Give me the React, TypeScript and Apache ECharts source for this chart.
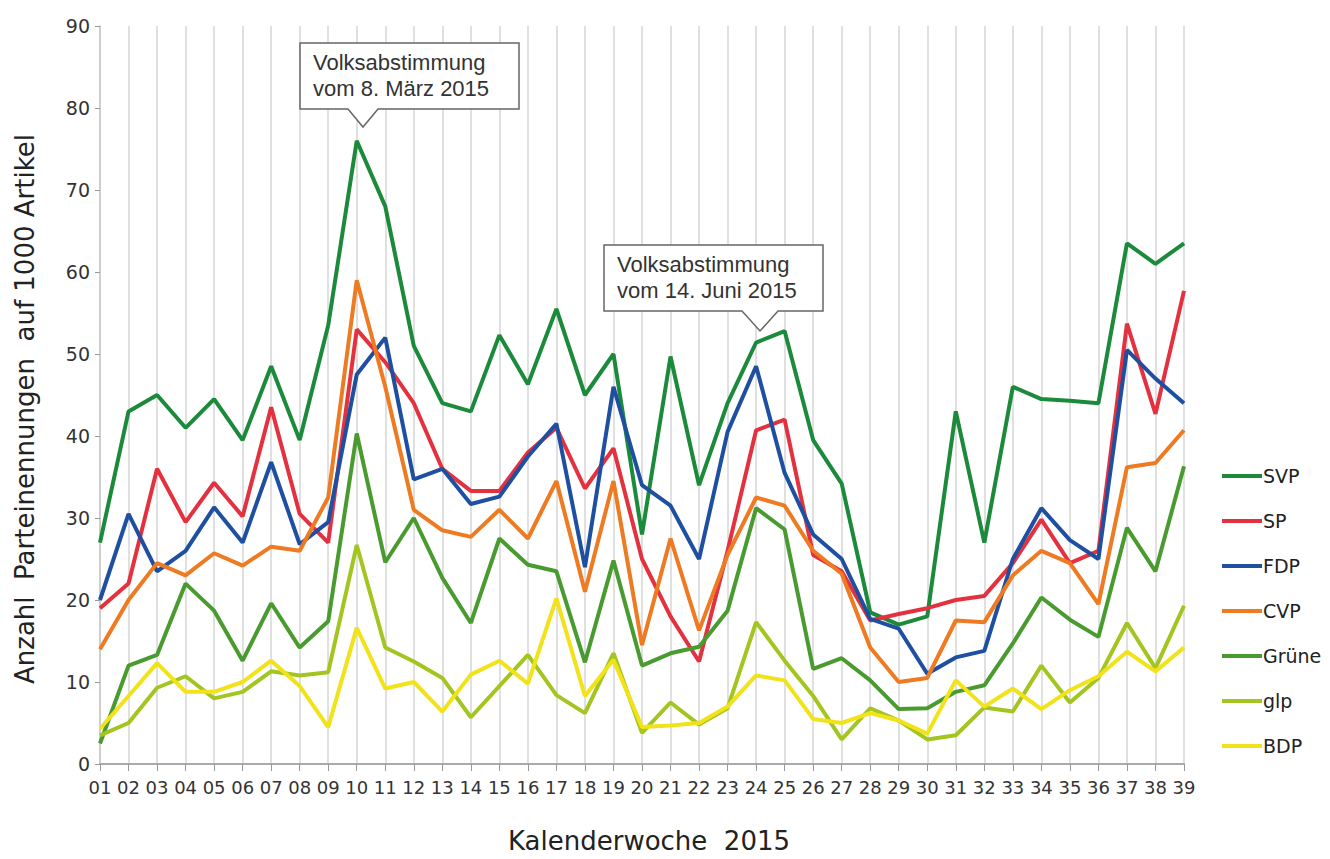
import React, { useEffect, useRef } from "react";
import * as echarts from "echarts";

const weeks = ["01","02","03","04","05","06","07","08","09","10","11","12","13","14","15","16","17","18","19","20","21","22","23","24","25","26","27","28","29","30","31","32","33","34","35","36","37","38","39"];

const svp = [27, 43, 45, 41, 44.5, 39.5, 48.5, 39.5, 53.5, 76, 68, 51, 44, 43, 52.3, 46.3, 55.5, 45, 50, 28, 49.7, 34, 44, 51.4, 52.8, 39.5, 34.2, 18.5, 17, 18, 43, 27, 46, 44.5, 44.3, 44, 63.5, 61, 63.5];
const sp = [19, 22, 36, 29.5, 34.3, 30.2, 43.5, 30.5, 27, 53, 49, 44, 36, 33.3, 33.3, 38, 41, 33.6, 38.5, 25, 18, 12.5, 26, 40.7, 42, 25.5, 23.5, 17.5, 18.3, 19, 20, 20.5, 24.5, 29.8, 24.5, 26, 53.7, 42.7, 57.7];
const fdp = [20, 30.5, 23.5, 26, 31.3, 27, 36.8, 26.8, 29.5, 47.5, 52, 34.7, 36, 31.7, 32.6, 37.5, 41.5, 24, 46, 34, 31.5, 25, 40.5, 48.5, 35.5, 28, 25, 17.7, 16.5, 11, 13, 13.8, 25, 31.2, 27.3, 25, 50.5, 47, 44];
const cvp = [14, 20, 24.5, 23, 25.7, 24.2, 26.5, 26, 32.5, 59, 46, 31, 28.5, 27.7, 31, 27.5, 34.5, 21, 34.5, 14.5, 27.5, 16.3, 25.5, 32.5, 31.5, 26, 23.2, 14.2, 10, 10.5, 17.5, 17.3, 23, 26, 24.5, 19.5, 36.2, 36.7, 40.7];
const gruene = [2.5, 12, 13.3, 22, 18.7, 12.6, 19.6, 14.2, 17.4, 40.3, 24.6, 30, 22.7, 17.2, 27.5, 24.3, 23.5, 12.4, 24.8, 12, 13.5, 14.3, 18.7, 31.2, 28.6, 11.6, 12.9, 10.2, 6.7, 6.8, 8.8, 9.6, 14.7, 20.3, 17.6, 15.5, 28.8, 23.5, 36.3];
const glp = [3.5, 5, 9.3, 10.7, 8, 8.8, 11.3, 10.8, 11.2, 26.7, 14.2, 12.5, 10.5, 5.7, 9.5, 13.3, 8.4, 6.2, 13.5, 3.8, 7.5, 4.8, 6.8, 17.3, 12.6, 8.3, 3, 6.8, 5.3, 3, 3.5, 6.9, 6.4, 12, 7.5, 10.5, 17.2, 11.7, 19.3];
const bdp = [4.3, 8.3, 12.3, 8.8, 8.8, 10, 12.6, 9.5, 4.5, 16.6, 9.2, 10, 6.4, 10.9, 12.6, 9.8, 20.2, 8.3, 12.7, 4.5, 4.7, 5, 7, 10.8, 10.2, 5.5, 5, 6.2, 5.3, 3.7, 10.2, 7, 9.2, 6.7, 9, 10.7, 13.7, 11.3, 14.2];

const seriesNames = ["SVP", "SP", "FDP", "CVP", "Grüne", "glp", "BDP"];
const seriesData = [svp, sp, fdp, cvp, gruene, glp, bdp];
const seriesColors = ["#1b8a3b", "#e4313f", "#1e4fa0", "#ee7a22", "#4a9b2f", "#a3c520", "#f2e21a"];

const yTicks = [0, 10, 20, 30, 40, 50, 60, 70, 80, 90];
const callout1 = ["Volksabstimmung", "vom 8. März 2015"];
const callout2 = ["Volksabstimmung", "vom 14. Juni 2015"];

const ARIAL = "'Liberation Sans', Arial, sans-serif";
const DEJAVU = "'DejaVu Sans', sans-serif";

export default function App() {
  const ref = useRef<HTMLDivElement>(null);
  useEffect(() => {
    if (!ref.current) return;
    const chart = echarts.init(ref.current, null, { renderer: "svg" });
    const calloutStyle = { fill: "#ffffff", stroke: "#666666", lineWidth: 1.5 };
    chart.setOption({
      animation: false,
      backgroundColor: "#ffffff",
      grid: { left: 100, right: 146, top: 26, bottom: 92, containLabel: false },
      legend: {
        orient: "vertical",
        left: 1222,
        top: 465,
        padding: 0,
        itemWidth: 40,
        itemHeight: 4,
        itemGap: 23,
        icon: "rect",
        textStyle: { fontFamily: DEJAVU, fontSize: 19, color: "#222", lineHeight: 22, padding: [0, 0, 0, -4] },
        data: seriesNames,
      },
      xAxis: {
        type: "category",
        data: weeks,
        boundaryGap: false,
        name: "Kalenderwoche  2015",
        nameLocation: "middle",
        nameGap: 64,
        nameTextStyle: { fontFamily: DEJAVU, fontSize: 26, color: "#222", padding: [0, 0, 0, 14] },
        axisLine: { show: true, lineStyle: { color: "#aaaaaa", width: 2 } },
        axisTick: { show: true, length: 7, lineStyle: { color: "#999999" }, alignWithLabel: true },
        axisLabel: { fontFamily: DEJAVU, fontSize: 18, color: "#333", margin: 14, interval: 0 },
        splitLine: { show: true, lineStyle: { color: "#d6d6d6", width: 1.5 } },
      },
      yAxis: {
        type: "value",
        min: 0,
        max: 90,
        interval: 10,
        name: "Anzahl  Parteinennungen  auf 1000 Artikel",
        nameLocation: "middle",
        nameGap: 62,
        nameTextStyle: { fontFamily: DEJAVU, fontSize: 26, color: "#222", padding: [0, 28, 0, 0] },
        axisLine: { show: true, lineStyle: { color: "#c8c8c8", width: 1.5 } },
        axisTick: { show: true, length: 5, lineStyle: { color: "#999999" } },
        axisLabel: {
          fontFamily: DEJAVU,
          fontSize: 19,
          color: "#333",
          margin: 10,
          formatter: (v: number) => (yTicks.includes(v) ? String(v) : ""),
        },
        splitLine: { show: false },
      },
      series: seriesNames.map((n, i) => ({
        name: n,
        type: "line",
        data: seriesData[i],
        symbol: "none",
        color: seriesColors[i],
        lineStyle: { width: 4, color: seriesColors[i] },
        z: 2,
      })),
      graphic: [
        {
          type: "polygon",
          shape: { points: [[300, 43], [519, 43], [519, 109], [378, 109], [363, 127], [348, 109], [300, 109]] },
          style: calloutStyle,
          z: 10,
        },
        {
          type: "text",
          left: 313,
          top: 49,
          style: { text: callout1.join("\n"), font: `22px ${ARIAL}`, fill: "#333", lineHeight: 26 },
          z: 11,
        },
        {
          type: "polygon",
          shape: { points: [[604, 245], [823, 245], [823, 311], [778, 311], [760, 331], [742, 311], [604, 311]] },
          style: calloutStyle,
          z: 10,
        },
        {
          type: "text",
          left: 617,
          top: 251,
          style: { text: callout2.join("\n"), font: `22px ${ARIAL}`, fill: "#333", lineHeight: 26 },
          z: 11,
        },
      ],
    });
    return () => chart.dispose();
  }, []);
  return <div ref={ref} style={{ position: "fixed", left: 0, top: 0, width: 1330, height: 859, background: "#fff" }} />;
}
